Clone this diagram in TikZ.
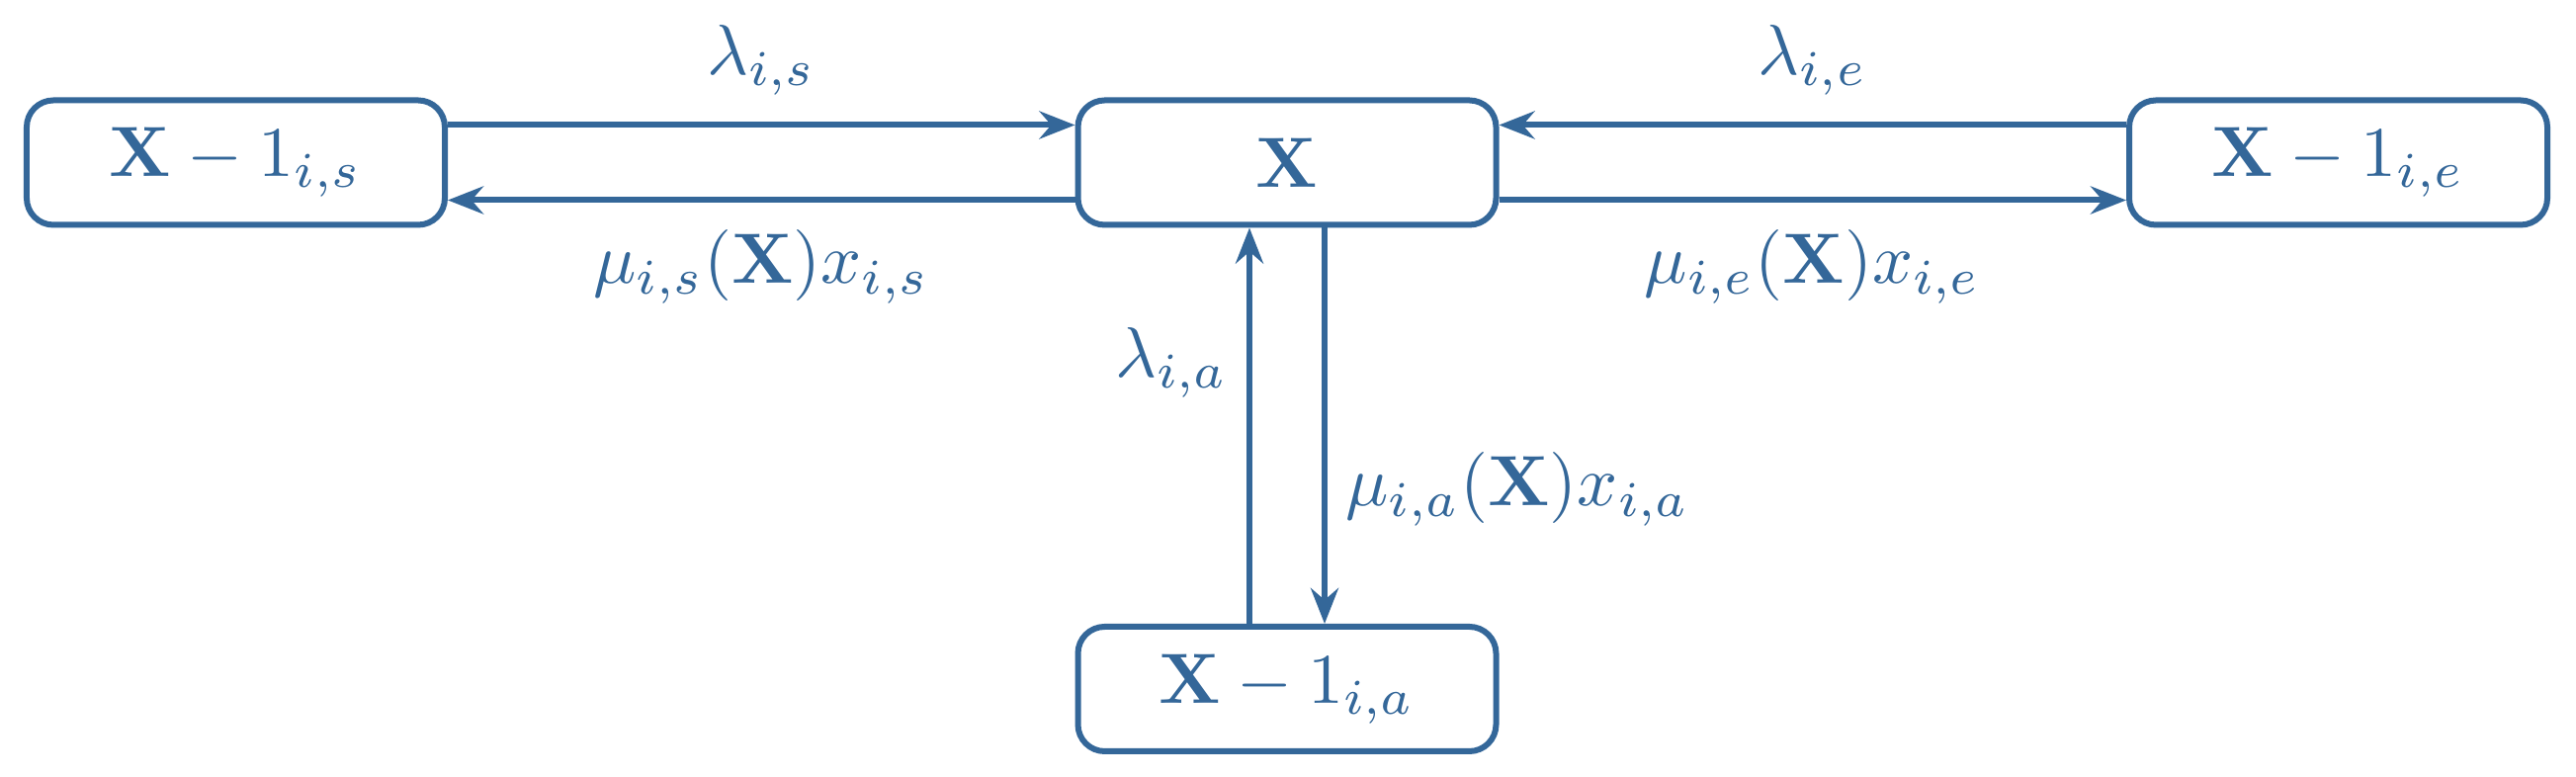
\documentclass[tikz,border=0pt]{standalone}
\usepackage{graphicx}
\usetikzlibrary{arrows.meta}
\definecolor{sblue}{RGB}{52,103,153}
\newcommand{\sttext}[1]{\scalebox{2.05}{$#1$}}
\begin{document}
\begin{tikzpicture}[
  every node/.style={text=sblue},
  state/.style={draw=sblue, line width=0.06cm, rounded corners=0.27cm,
    minimum width=4.23cm, minimum height=1.26cm, inner sep=0pt},
  conn/.style={draw=sblue, line width=0.06cm,
    -{Stealth[length=0.36cm,width=0.28cm,inset=0.12cm]}},
  lab/.style={scale=2.05},
  vlab/.style={scale=2.05, inner sep=0.075cm}
]
\useasboundingbox (0,0) rectangle (26.06,7.86);
\node[state] (L) at (2.385,6.215) {\sttext{\mathbf{X}-1_{i,s}}};
\node[state] (C) at (13.02,6.215) {\sttext{\mathbf{X}}};
\node[state] (R) at (23.655,6.215) {\sttext{\mathbf{X}-1_{i,e}}};
\node[state] (B) at (13.02,0.89) {\sttext{\mathbf{X}-1_{i,a}}};

\draw[conn] ([yshift=0.38cm]L.east) -- node[lab,above]{$\lambda_{i,s}$} ([yshift=0.38cm]C.west);
\draw[conn] ([yshift=-0.38cm]C.west) -- node[lab,below]{$\mu_{i,s}(\mathbf{X})x_{i,s}$} ([yshift=-0.38cm]L.east);
\draw[conn] ([yshift=0.38cm]R.west) -- node[lab,above]{$\lambda_{i,e}$} ([yshift=0.38cm]C.east);
\draw[conn] ([yshift=-0.38cm]C.east) -- node[lab,below]{$\mu_{i,e}(\mathbf{X})x_{i,e}$} ([yshift=-0.38cm]R.west);
\draw[conn] ([xshift=-0.38cm]B.north) -- node[vlab,left,pos=0.66]{$\lambda_{i,a}$} ([xshift=-0.38cm]C.south);
\draw[conn] ([xshift=0.38cm]C.south) -- node[vlab,right,pos=0.66]{$\mu_{i,a}(\mathbf{X})x_{i,a}$} ([xshift=0.38cm]B.north);
\end{tikzpicture}
\end{document}
